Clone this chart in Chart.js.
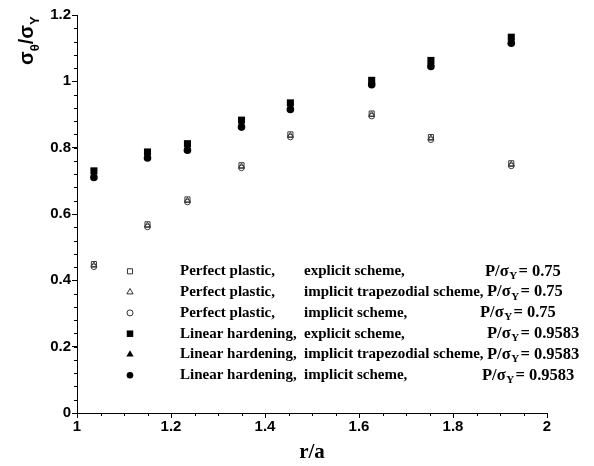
<!DOCTYPE html>
<html><head><meta charset="UTF-8">
<title>Hoop stress vs r/a</title>
<script src="https://cdn.jsdelivr.net/npm/chart.js"></script>
<style>
html, body { margin: 0; padding: 0; background: #fff; }
canvas { display: block; }
</style>
</head>
<body>
<canvas id="chart" width="594" height="466"></canvas>
<script>
// radial positions r/a
const rValues = [1.036, 1.150, 1.235, 1.350, 1.454, 1.627, 1.753, 1.924];

// perfect plastic, P/sY = 0.75
const ppExplicit  = [0.449, 0.569, 0.644, 0.747, 0.840, 0.903, 0.832, 0.753];
const ppTrapezoid = [0.445, 0.565, 0.640, 0.743, 0.836, 0.899, 0.828, 0.749];
const ppImplicit  = [0.441, 0.561, 0.636, 0.739, 0.832, 0.895, 0.824, 0.745];

// linear hardening, P/sY = 0.9583
const lhExplicit  = [0.730, 0.787, 0.812, 0.883, 0.935, 1.003, 1.063, 1.133];
const lhTrapezoid = [0.720, 0.778, 0.802, 0.872, 0.925, 0.997, 1.054, 1.124];
const lhImplicit  = [0.710, 0.769, 0.792, 0.862, 0.915, 0.990, 1.045, 1.115];

const materialNames = ['Perfect plastic,', 'Perfect plastic,', 'Perfect plastic,',
                       'Linear hardening,', 'Linear hardening,', 'Linear hardening,'];
const schemeNames = ['explicit scheme,', 'implicit trapezodial scheme,', 'implicit scheme,',
                     'explicit scheme,', 'implicit trapezodial scheme,', 'implicit scheme,'];
const loadRatios = ['0.75', '0.75', '0.75', '0.9583', '0.9583', '0.9583'];

const xMin = 1, xMax = 2, xStep = 0.2, xMinor = 0.05;
const yMin = 0, yMax = 1.2, yStep = 0.2, yMinor = 0.04;

function pts(ys) { return rValues.map((r, i) => ({ x: r, y: ys[i] })); }

const openColor = '#3a3a3a';
const styles = [
  { pointStyle: 'rect',     radius: 3.6, fill: false },
  { pointStyle: 'triangle', radius: 3.4, fill: false },
  { pointStyle: 'circle',   radius: 2.8, fill: false },
  { pointStyle: 'rect',     radius: 5.0, fill: true },
  { pointStyle: 'triangle', radius: 4.2, fill: true },
  { pointStyle: 'circle',   radius: 3.8, fill: true }
];
const seriesData = [ppExplicit, ppTrapezoid, ppImplicit, lhExplicit, lhTrapezoid, lhImplicit];

const datasets = seriesData.map((d, i) => ({
  label: materialNames[i] + ' ' + schemeNames[i],
  data: pts(d),
  showLine: false,
  pointStyle: styles[i].pointStyle,
  pointRadius: styles[i].radius,
  pointBorderWidth: styles[i].fill ? 0 : 1,
  pointBorderColor: styles[i].fill ? '#000' : openColor,
  pointBackgroundColor: styles[i].fill ? '#000' : 'rgba(0,0,0,0)'
}));

const sansBold = '"Liberation Sans", Arial, sans-serif';
const serifBold = '"Liberation Serif", "Times New Roman", serif';

function drawRich(ctx, x, y, parts, size, family) {
  parts.forEach(p => {
    const s = p.sub ? Math.round(size * 0.66) : size;
    ctx.font = 'bold ' + s + 'px ' + family;
    ctx.fillText(p.t, x, y + (p.sub ? size * 0.28 : 0));
    x += ctx.measureText(p.t).width + (p.gap || 0);
  });
  return x;
}

function drawMarker(ctx, style, x, y, r) {
  ctx.beginPath();
  if (style === 'rect') {
    const s = r * Math.SQRT1_2;
    ctx.rect(x - s, y - s, 2 * s, 2 * s);
  } else if (style === 'triangle') {
    ctx.moveTo(x, y - r);
    ctx.lineTo(x + r * 0.866, y + r * 0.5);
    ctx.lineTo(x - r * 0.866, y + r * 0.5);
    ctx.closePath();
  } else {
    ctx.arc(x, y, r, 0, Math.PI * 2);
  }
}

const decorations = {
  id: 'decorations',
  afterDraw(chart) {
    const ctx = chart.ctx;
    const xs = chart.scales.x, ys = chart.scales.y;
    const area = chart.chartArea;
    ctx.save();
    ctx.strokeStyle = '#000';
    ctx.lineWidth = 1;
    // minor ticks
    ctx.beginPath();
    for (let v = xMin; v <= xMax + 1e-9; v += xMinor) {
      const px = Math.round(xs.getPixelForValue(v)) + 0.5;
      ctx.moveTo(px, area.bottom);
      ctx.lineTo(px, area.bottom + 3);
    }
    for (let v = yMin; v <= yMax + 1e-9; v += yMinor) {
      const py = Math.round(ys.getPixelForValue(v)) + 0.5;
      ctx.moveTo(area.left, py);
      ctx.lineTo(area.left - 3, py);
    }
    ctx.stroke();

    ctx.fillStyle = '#000';
    // x title
    ctx.font = 'bold 21px ' + serifBold;
    ctx.textAlign = 'center';
    ctx.textBaseline = 'alphabetic';
    ctx.fillText('r/a', (area.left + area.right) / 2, 458);

    // y title
    ctx.textAlign = 'left';
    ctx.save();
    ctx.translate(33, 65);
    ctx.rotate(-Math.PI / 2);
    drawRich(ctx, 0, 0, [
      { t: 'σ' }, { t: 'θ', sub: true }, { t: '/' }, { t: 'σ' }, { t: 'Y', sub: true }
    ], 20, sansBold);
    ctx.restore();

    // legend
    const pX = [485, 487, 480, 487, 487, 482];
    const legR = [3.6, 3.6, 3.0, 4.6, 4.2, 3.3];
    ctx.textBaseline = 'middle';
    for (let i = 0; i < 6; i++) {
      const y = 271.3 + 20.8 * i;
      drawMarker(ctx, styles[i].pointStyle, 130, y, legR[i]);
      if (styles[i].fill) { ctx.fillStyle = '#000'; ctx.fill(); }
      else { ctx.strokeStyle = '#000'; ctx.lineWidth = 0.8; ctx.stroke(); }
      ctx.fillStyle = '#000';
      ctx.font = 'bold 15px ' + serifBold;
      ctx.fillText(materialNames[i], 180, y);
      ctx.fillText(schemeNames[i], 304, y);
      drawRich(ctx, pX[i], y, [
        { t: 'P/σ', gap: 0.5 }, { t: 'Y', sub: true, gap: 1.5 }, { t: '=', gap: 4 }, { t: loadRatios[i] }
      ], 16.5, serifBold);
    }
    ctx.restore();
  }
};

const tickFont = { family: sansBold, size: 15, weight: 'bold' };

new Chart(document.getElementById('chart'), {
  type: 'scatter',
  data: { datasets: datasets },
  options: {
    responsive: false,
    animation: false,
    devicePixelRatio: 1,
    layout: { padding: { top: 15, right: 47, left: 0, bottom: 0 } },
    plugins: { legend: { display: false }, tooltip: { enabled: false } },
    scales: {
      x: {
        type: 'linear', min: xMin, max: xMax,
        afterFit(s) { s.height = 53; },
        border: { display: true, color: '#000', width: 1 },
        grid: { drawOnChartArea: false, drawTicks: true, tickLength: 5, color: '#000' },
        ticks: { stepSize: xStep, color: '#000', font: tickFont, padding: 0, maxRotation: 0,
                 callback: v => +v.toFixed(1) }
      },
      y: {
        type: 'linear', min: yMin, max: yMax,
        afterFit(s) { s.width = 77; },
        border: { display: true, color: '#000', width: 1 },
        grid: { drawOnChartArea: false, drawTicks: true, tickLength: 5, color: '#000' },
        ticks: { stepSize: yStep, color: '#000', font: tickFont, padding: 1,
                 callback: v => +v.toFixed(1) }
      }
    }
  },
  plugins: [decorations]
});
</script>
</body></html>
